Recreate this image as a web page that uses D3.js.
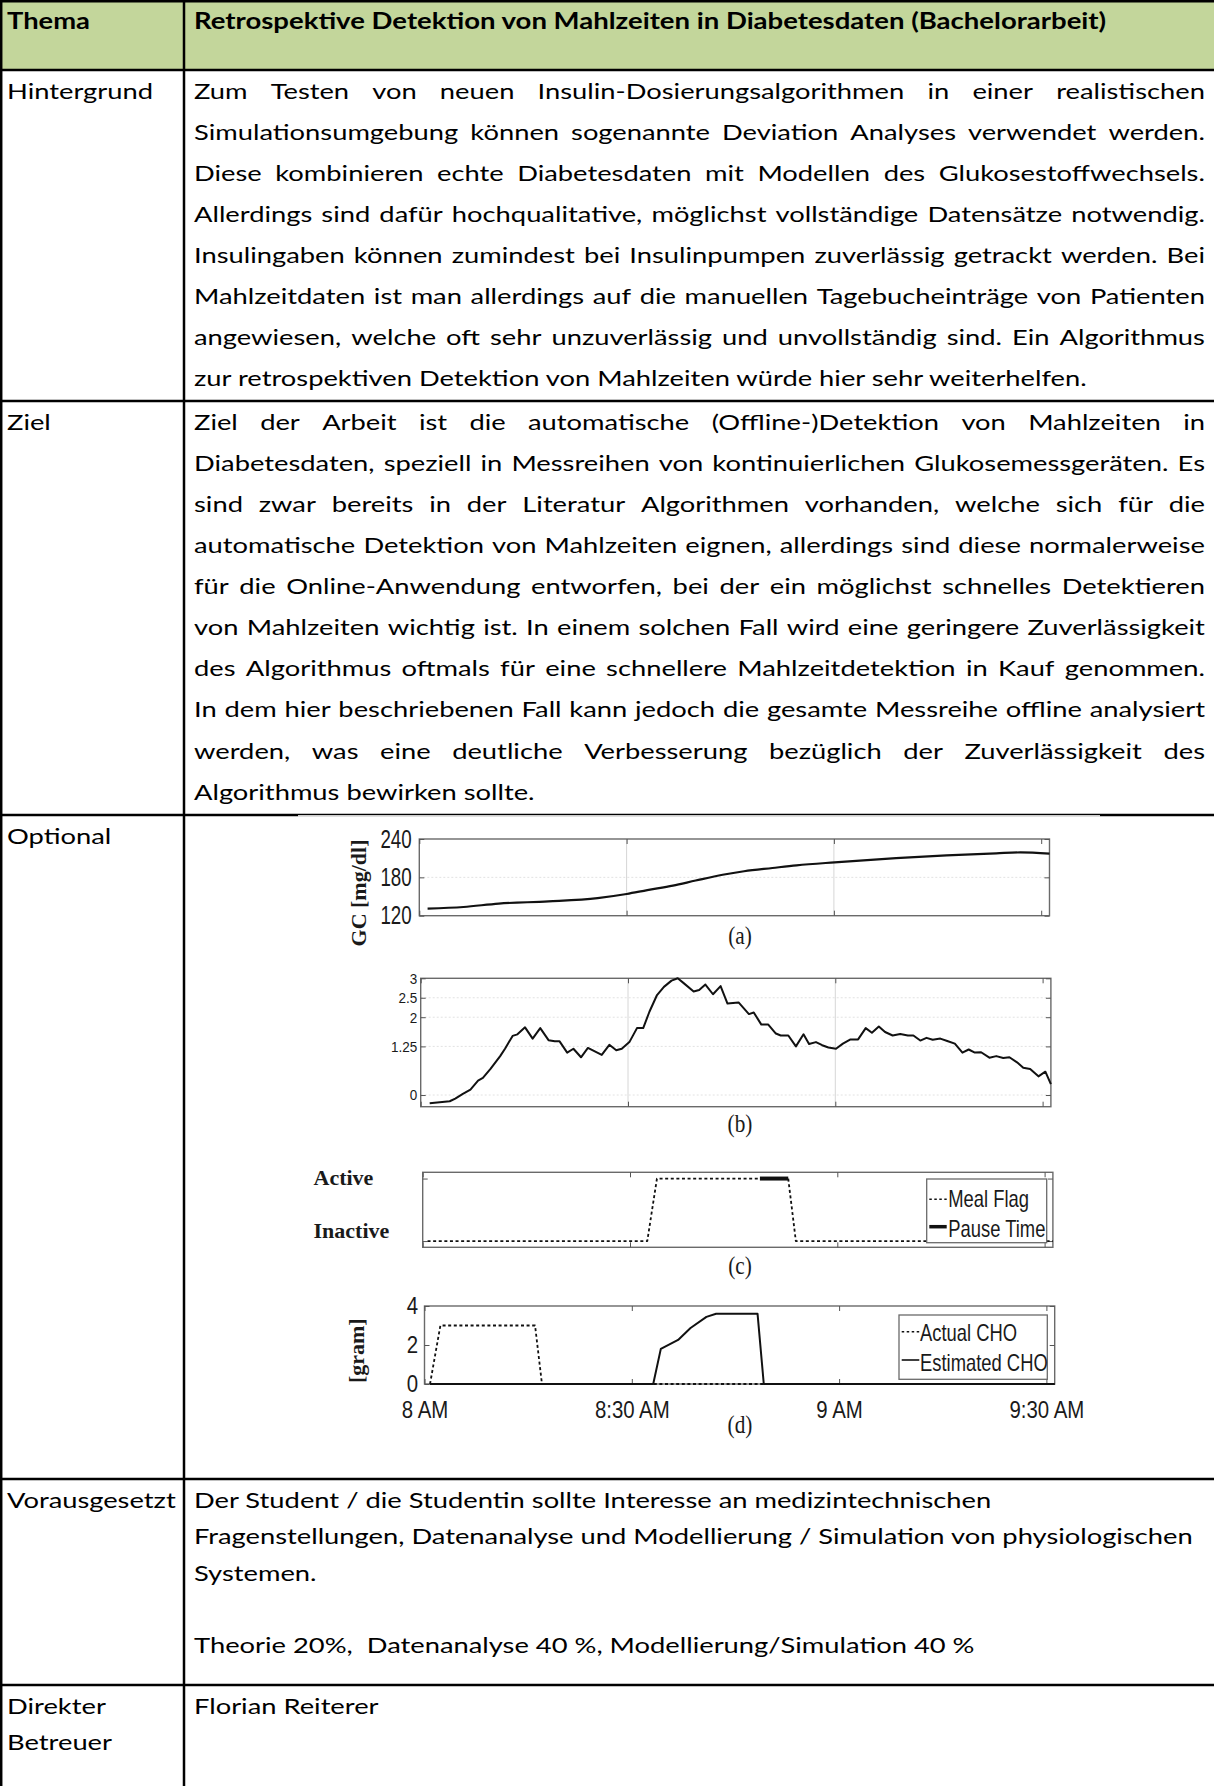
<!DOCTYPE html>
<html>
<head>
<meta charset="utf-8">
<script src="https://cdn.jsdelivr.net/npm/d3@7"></script>
<style>
html, body { margin: 0; padding: 0; background: #fff; }
svg { display: block; }
</style>
</head>
<body>
<div id="page"></div>
<script>
// ---- table text ----
var headLabel = 'Thema';
var headTitle = 'Retrospektive Detektion von Mahlzeiten in Diabetesdaten (Bachelorarbeit)';
var rowLabels = [['Hintergrund'], ['Ziel'], ['Optional'], ['Vorausgesetzt'], ['Direkter', 'Betreuer']];
var hintergrundLines = [
    'Zum Testen von neuen Insulin-Dosierungsalgorithmen in einer realistischen',
    'Simulationsumgebung können sogenannte Deviation Analyses verwendet werden.',
    'Diese kombinieren echte Diabetesdaten mit Modellen des Glukosestoffwechsels.',
    'Allerdings sind dafür hochqualitative, möglichst vollständige Datensätze notwendig.',
    'Insulingaben können zumindest bei Insulinpumpen zuverlässig getrackt werden. Bei',
    'Mahlzeitdaten ist man allerdings auf die manuellen Tagebucheinträge von Patienten',
    'angewiesen, welche oft sehr unzuverlässig und unvollständig sind. Ein Algorithmus',
    'zur retrospektiven Detektion von Mahlzeiten würde hier sehr weiterhelfen.'
];
var zielLines = [
    'Ziel der Arbeit ist die automatische (Offline-)Detektion von Mahlzeiten in',
    'Diabetesdaten, speziell in Messreihen von kontinuierlichen Glukosemessgeräten. Es',
    'sind zwar bereits in der Literatur Algorithmen vorhanden, welche sich für die',
    'automatische Detektion von Mahlzeiten eignen, allerdings sind diese normalerweise',
    'für die Online-Anwendung entworfen, bei der ein möglichst schnelles Detektieren',
    'von Mahlzeiten wichtig ist. In einem solchen Fall wird eine geringere Zuverlässigkeit',
    'des Algorithmus oftmals für eine schnellere Mahlzeitdetektion in Kauf genommen.',
    'In dem hier beschriebenen Fall kann jedoch die gesamte Messreihe offline analysiert',
    'werden, was eine deutliche Verbesserung bezüglich der Zuverlässigkeit des',
    'Algorithmus bewirken sollte.'
];
var vorausLines = [
    'Der Student / die Studentin sollte Interesse an medizintechnischen',
    'Fragenstellungen, Datenanalyse und Modellierung / Simulation von physiologischen',
    'Systemen.',
    '',
    'Theorie 20%,  Datenanalyse 40 %, Modellierung/Simulation 40 %'
];
var betreuerLines = ['Florian Reiterer'];

// ---- figure data (minutes after 8 AM) ----
var timeTicks = [0, 30, 60, 90];
var timeLabels = ['8 AM', '8:30 AM', '9 AM', '9:30 AM'];

var gcMin = [1.2, 6.4, 11.5, 18.7, 25.8, 30, 33, 36.7, 40, 43.9, 47, 51.1, 54.6, 60.1, 69, 76.3, 83.5, 87, 91.2];
var gcVal = [131, 133.6, 139, 142.4, 147.6, 154, 160, 167, 175, 184, 189.5, 194.6, 198.8, 203.5, 210, 214.4, 217.6, 219, 217];
var gcTicks = [120, 180, 240];

var rateMin = [1.3, 4.2, 5.0, 6.1, 7.2, 8.3, 9.0, 10.1, 11.5, 12.2, 13.3, 14.0, 15.1, 16.2, 17.3, 18.5, 19.4, 20.1, 21.2, 22.1,
    23.2, 24.2, 25.2, 26.2, 27.3, 28.3, 29.1, 30.2, 31.3, 32.2, 33.1, 34.2, 35.2, 36.3, 37.2, 38.1, 39.5, 40.3, 41.2, 42.3,
    43.4, 44.4, 46.0, 47.5, 48.2, 49.3, 50.3, 51.4, 52.1, 53.2, 54.3, 55.4, 56.2, 57.2, 58.1, 59.0, 60.1, 61.1, 62.2, 63.3,
    64.4, 65.3, 66.3, 67.2, 68.3, 69.4, 70.5, 71.3, 72.3, 73.2, 74.1, 75.2, 76.2, 77.3, 78.4, 79.3, 80.2, 81.1, 82.3, 83.3,
    84.3, 85.2, 86.3, 87.2, 88.2, 89.4, 90.4, 91.2];
var rateVal = [-0.21, -0.16, -0.09, 0.03, 0.14, 0.37, 0.44, 0.67, 1.0, 1.19, 1.52, 1.56, 1.74, 1.45, 1.72, 1.41, 1.38, 1.38, 1.09, 1.19,
    0.97, 1.21, 1.12, 1.03, 1.29, 1.15, 1.19, 1.36, 1.72, 1.72, 2.14, 2.57, 2.78, 2.94, 3.0, 2.87, 2.66, 2.7, 2.84, 2.59,
    2.8, 2.35, 2.38, 2.08, 2.12, 1.81, 1.81, 1.58, 1.53, 1.53, 1.25, 1.56, 1.31, 1.36, 1.28, 1.22, 1.19, 1.32, 1.43, 1.43,
    1.72, 1.6, 1.76, 1.62, 1.53, 1.57, 1.53, 1.53, 1.4, 1.47, 1.42, 1.45, 1.39, 1.32, 1.09, 1.17, 1.09, 1.1, 0.96, 1.0,
    0.95, 0.97, 0.84, 0.7, 0.67, 0.48, 0.6, 0.28];
var rateTicks = [0, 1.25, 2, 2.5, 3];

var flagMin = [0.7, 32.5, 33.9, 52.9, 54.0, 91.2];
var flagVal = [0, 0, 1, 1, 0, 0];
var pauseMin = [48.8, 52.9];
var pauseVal = [1, 1];
var flagLabels = ['Inactive', 'Active'];

var actualMin = [0.8, 2.3, 16.0, 17.0, 91.2];
var actualVal = [0, 3, 3, 0, 0];
var estMin = [0.8, 33.1, 34.2, 36.7, 38.5, 40.8, 42.2, 48.2, 49.1, 91.2];
var estVal = [0, 0, 1.8, 2.26, 2.87, 3.44, 3.6, 3.6, 0, 0];
var choTicks = [0, 2, 4];

// ---- page ----
var W = 1214, H = 1786;
var colX = 184, textX = 194, textRight = 1205, labelX = 7;
var rowY = [0, 70, 401, 815, 1479, 1685];
var bodyFont = 'Lato, "Open Sans", sans-serif';
var bodySize = 22;
var serif = '"Liberation Serif", "Times New Roman", serif';
var sans = '"Liberation Sans", Arial, sans-serif';
var ink = '#1a1a1a';

var svg = d3.select('#page').append('svg').attr('width', W).attr('height', H);
svg.append('rect').attr('width', W).attr('height', H).attr('fill', '#fff');
svg.append('rect').attr('width', W).attr('height', rowY[1]).attr('fill', '#c3d69b');

// text measuring
var meas = svg.append('text').attr('font-family', bodyFont).attr('font-size', bodySize)
    .attr('visibility', 'hidden').style('white-space', 'pre');
function tw(s, bold) {
    meas.attr('font-weight', bold ? 700 : 400).text(s);
    return meas.node().getComputedTextLength();
}
// the scanned document is a little wider than the font: match the label width
var k = 146 / tw('Hintergrund');

function drawLine(str, x, y, bold, justifyW, kk) {
    var s = kk || k;
    var t = svg.append('text')
        .attr('transform', 'translate(' + x + ',' + y + ') scale(' + s + ',1)')
        .attr('font-family', bodyFont).attr('font-size', bodySize)
        .attr('font-weight', bold ? 700 : 400).attr('fill', '#000')
        .style('white-space', 'pre');
    if (!justifyW) { t.text(str); return; }
    var words = str.split(' ');
    var widths = words.map((w) => tw(w, bold));
    var gap = (justifyW / s - d3.sum(widths)) / (words.length - 1);
    var cx = 0;
    words.forEach(function (w, i) {
        t.append('tspan').attr('x', cx).text(w);
        cx += widths[i] + gap;
    });
}

function paragraph(lines, y0, step, justify) {
    lines.forEach(function (l, i) {
        if (!l) return;
        var last = i === lines.length - 1;
        drawLine(l, textX, y0 + i * step, false, (justify && !last) ? textRight - textX : 0);
    });
}

// header
drawLine(headLabel, labelX, 28.5, true);
drawLine(headTitle, textX, 28.5, true, 0, 913 / tw(headTitle, true));

// left labels
var labelBase = [99.3, 429.7, 844, 1508, 1714];
rowLabels.forEach(function (ls, r) {
    ls.forEach((l, i) => drawLine(l, labelX, labelBase[r] + i * 36.3, false));
});

paragraph(hintergrundLines, 99.3, 41.0, true);
paragraph(zielLines, 429.7, 41.1, true);
paragraph(vorausLines, 1508, 36.3, false);
paragraph(betreuerLines, 1714, 36.3, false);
meas.remove();

// ---- figure ----
var minPx = 207.3 / 30;
var xMax = 91.2;

function styleText(sel, size, family, weight) {
    sel.attr('font-family', family || sans).attr('font-size', size)
        .attr('font-weight', weight || 400).attr('fill', ink);
}

function panel(p) {
    var g = svg.append('g');
    var x = d3.scaleLinear().domain([0, xMax]).range([p.x0, p.x0 + xMax * minPx]);
    var y = d3.scaleLinear().domain(p.yDomain).range([p.bottom, p.top]);

    if (p.grid) {
        g.selectAll('.gx').data(timeTicks.slice(1, 3)).enter().append('line')
            .attr('x1', (d) => x(d)).attr('x2', (d) => x(d))
            .attr('y1', p.top).attr('y2', p.bottom)
            .attr('stroke', '#d6d6d6').attr('stroke-width', 1);
        g.selectAll('.gy').data(p.yTicks.filter((v) => y(v) > p.top + 2 && y(v) < p.bottom - 2)).enter().append('line')
            .attr('x1', x(0)).attr('x2', x(xMax))
            .attr('y1', (d) => y(d)).attr('y2', (d) => y(d))
            .attr('stroke', '#e2e2e2').attr('stroke-width', 1).attr('stroke-dasharray', '2,2');
    }

    g.append('rect')
        .attr('x', x(0)).attr('y', p.top)
        .attr('width', x(xMax) - x(0)).attr('height', p.bottom - p.top)
        .attr('fill', 'none').attr('stroke', '#6a6a6a').attr('stroke-width', 1.4);

    function clean(a) { a.select('.domain').remove(); a.selectAll('line').attr('stroke', '#555'); }

    g.append('g').attr('transform', 'translate(0,' + p.top + ')')
        .call(d3.axisTop(x).tickValues(timeTicks).tickSizeInner(-5).tickSizeOuter(0).tickFormat(''))
        .call(clean);
    var bx = g.append('g').attr('transform', 'translate(0,' + p.bottom + ')')
        .call(d3.axisBottom(x).tickValues(timeTicks).tickSizeInner(-5).tickSizeOuter(0)
            .tickPadding(p.xPad || 0)
            .tickFormat(p.xLabels ? (d, i) => timeLabels[i] : ''))
        .call(clean);
    if (p.xLabels) {
        bx.selectAll('text').call(styleText, 24).attr('transform', 'scale(0.85,1)');
    }
    g.append('g').attr('transform', 'translate(' + x(xMax) + ',0)')
        .call(d3.axisRight(y).tickValues(p.yTicks).tickSizeInner(-5).tickSizeOuter(0).tickFormat(''))
        .call(clean);
    var ly = g.append('g').attr('transform', 'translate(' + x(0) + ',0)')
        .call(d3.axisLeft(y).tickValues(p.yTicks).tickSizeInner(-5).tickSizeOuter(0)
            .tickPadding(p.yPad).tickFormat(p.yFormat || ''))
        .call(clean);
    if (p.yFormat) {
        ly.selectAll('text').call(styleText, p.ySize)
            .attr('x', -p.yPad / p.ySx)
            .attr('transform', 'scale(' + p.ySx + ',1)');
    }
    return { g: g, x: x, y: y };
}

function series(xs, ys) { return xs.map((v, i) => [v, ys[i]]); }

function plotLine(pn, data, opts) {
    var line = d3.line().x((d) => pn.x(d[0])).y((d) => pn.y(d[1]));
    if (opts.curve) line.curve(opts.curve);
    pn.g.append('path').datum(data)
        .attr('d', line)
        .attr('fill', 'none').attr('stroke', opts.color || '#111')
        .attr('stroke-width', opts.width || 2)
        .attr('stroke-linejoin', 'round')
        .attr('stroke-dasharray', opts.dash || null);
}

function caption(str, y) {
    svg.append('text').attr('transform', 'translate(740,' + y + ') scale(0.85,1)')
        .attr('text-anchor', 'middle').call(styleText, 25, serif).text(str);
}

function yTitle(str, x, y) {
    svg.append('text').attr('transform', 'translate(' + x + ',' + y + ') rotate(-90)')
        .attr('text-anchor', 'middle').call(styleText, 22, serif, 700).text(str);
}

function legend(pn, box, items) {
    var lg = pn.g.append('g');
    lg.append('rect').attr('x', box[0]).attr('y', box[1])
        .attr('width', box[2] - box[0]).attr('height', box[3] - box[1])
        .attr('fill', '#fff').attr('stroke', '#6a6a6a').attr('stroke-width', 1.3);
    items.forEach(function (it) {
        lg.append('line').attr('x1', it.x1).attr('x2', it.x2).attr('y1', it.ly).attr('y2', it.ly)
            .attr('stroke', '#111').attr('stroke-width', it.width).attr('stroke-dasharray', it.dash || null);
        lg.append('text').attr('transform', 'translate(' + it.tx + ',' + it.ty + ') scale(0.8,1)')
            .call(styleText, 23).text(it.label);
    });
}

var dotted = '3,2.6';

// (a) glucose concentration
var pa = panel({ x0: 419.3, top: 839, bottom: 915.7, yDomain: [120, 240], yTicks: gcTicks,
    yFormat: (d) => String(d), yPad: 7.6, ySize: 25, ySx: 0.75, grid: true });
plotLine(pa, series(gcMin, gcVal), { width: 2.2, curve: d3.curveMonotoneX });
yTitle('GC [mg/dl]', 366, 893);
caption('(a)', 944);

// (b) glucose rate
var pb = panel({ x0: 420.7, top: 978.3, bottom: 1106.7, yDomain: [-0.3, 3], yTicks: rateTicks,
    yFormat: (d) => String(d), yPad: 3.4, ySize: 15, ySx: 0.9, grid: true });
plotLine(pb, series(rateMin, rateVal), { width: 2 });
caption('(b)', 1132);

// (c) meal flag
var pc = panel({ x0: 422.7, top: 1172.3, bottom: 1247.3, yDomain: [-0.1, 1.1], yTicks: [0, 1] });
plotLine(pc, series(flagMin, flagVal), { width: 1.8, dash: dotted });
plotLine(pc, series(pauseMin, pauseVal), { width: 4 });
var flagDy = [-3, 6];
svg.selectAll('.flaglabel').data(flagLabels).enter().append('text')
    .attr('x', 313.5).attr('y', (d, i) => pc.y(i) + flagDy[i])
    .call(styleText, 22, serif, 700).text((d) => d);
legend(pc, [926.7, 1179, 1046.7, 1242.7], [
    { label: 'Meal Flag', x1: 929.3, x2: 946.7, ly: 1199.3, width: 1.6, dash: '2.5,2.5', tx: 948.3, ty: 1207 },
    { label: 'Pause Time', x1: 929.3, x2: 946.7, ly: 1226.7, width: 3.5, tx: 948.3, ty: 1236.5 }
]);
caption('(c)', 1273.5);

// (d) carbohydrates
var pd = panel({ x0: 424.5, top: 1306, bottom: 1384, yDomain: [0, 4], yTicks: choTicks,
    yFormat: (d) => String(d), yPad: 6.5, ySize: 24, ySx: 0.85, xLabels: true, xPad: 17 });
plotLine(pd, series(actualMin, actualVal), { width: 1.8, dash: dotted });
plotLine(pd, series(estMin, estVal), { width: 2 });
yTitle('[gram]', 363.5, 1350.7);
legend(pd, [899, 1315, 1047.3, 1379.3], [
    { label: 'Actual CHO', x1: 901.7, x2: 919.3, ly: 1331.7, width: 1.6, dash: '2.5,2.5', tx: 920, ty: 1340.5 },
    { label: 'Estimated CHO', x1: 901.7, x2: 919.3, ly: 1360, width: 1.6, tx: 920, ty: 1371 }
]);
caption('(d)', 1433);

// ---- table borders ----
var border = svg.append('g').attr('stroke', '#000').attr('stroke-width', 2.5);
border.selectAll('.hline').data(rowY).enter().append('line')
    .attr('x1', 0).attr('x2', W)
    .attr('y1', (d) => Math.max(d, 1.2)).attr('y2', (d) => Math.max(d, 1.2));
border.append('line').attr('x1', 1.2).attr('x2', 1.2).attr('y1', 0).attr('y2', H);
border.append('line').attr('x1', colX).attr('x2', colX).attr('y1', 0).attr('y2', H);
// the figure's white margin slightly overlaps the row border
svg.append('rect').attr('x', 298).attr('y', rowY[3] + 0.2).attr('width', 802).attr('height', 1.3).attr('fill', '#fff');
</script>
</body>
</html>
